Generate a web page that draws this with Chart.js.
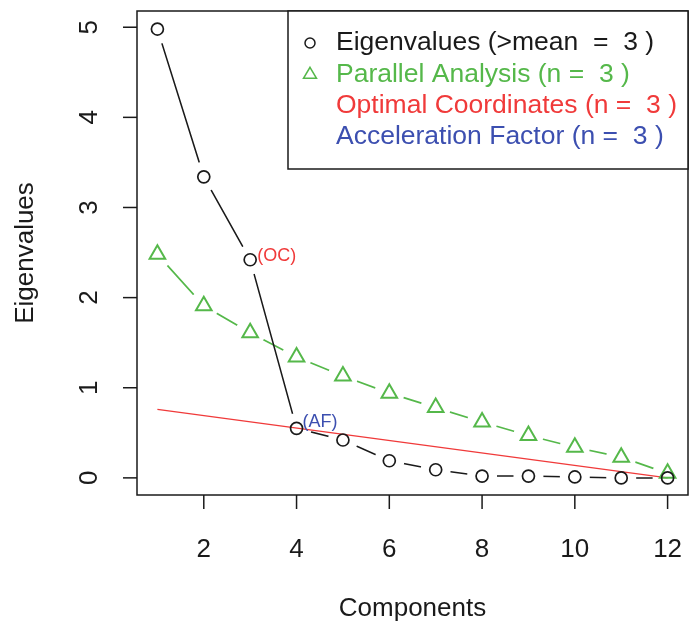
<!DOCTYPE html>
<html>
<head>
<meta charset="utf-8">
<script src="https://cdn.jsdelivr.net/npm/chart.js@4.4.0/dist/chart.umd.min.js"></script>
<style>
  html, body { margin: 0; padding: 0; background: #fff; }
</style>
</head>
<body>
<canvas id="screeChart" width="699" height="625"></canvas>
<script>
const ctx1 = document.getElementById("screeChart");

const components = [1, 2, 3, 4, 5, 6, 7, 8, 9, 10, 11, 12];
const eigenvalues = [4.98, 3.34, 2.42, 0.55, 0.42, 0.19, 0.09, 0.02, 0.02, 0.01, 0.0, 0.0];
const parallelAnalysis = [2.48, 1.91, 1.61, 1.34, 1.13, 0.94, 0.78, 0.62, 0.47, 0.34, 0.23, 0.05];
const ocComponents = [1, 12];
const ocValues = [0.76, 0.0];

const xTicks = [2, 4, 6, 8, 10, 12];
const yTicks = [0, 1, 2, 3, 4, 5];

const legendLabels = [
  "Eigenvalues (>mean  =  3 )",
  "Parallel Analysis (n =  3 )",
  "Optimal Coordinates (n =  3 )",
  "Acceleration Factor (n =  3 )",
];
const ocLabel = "(OC)";
const afLabel = "(AF)";
const ocIndex = 2;
const afIndex = 3;

const BLACK = "#1a1a1a";
const GREEN = "#55B84A";
const RED = "#F03A3A";
const BLUE = "#3C4FB0";
const FONT = "'Liberation Sans', Arial, sans-serif";

function toPoints(xs, ys) {
  return xs.map((x, i) => ({ x: x, y: ys[i] }));
}

// cut a hole round every point of a line, like R type = "b"
const gapPlugin = {
  id: "gaps",
  beforeDatasetDraw(chart, args) {
    const ds = chart.data.datasets[args.index];
    if (!ds.gap) return;
    const c = chart.ctx;
    const a = chart.chartArea;
    c.save();
    c.beginPath();
    c.rect(a.left - 20, a.top - 20, a.width + 40, a.height + 40);
    args.meta.data.forEach((el) => {
      c.moveTo(el.x + ds.gap, el.y);
      c.arc(el.x, el.y, ds.gap, 0, Math.PI * 2);
    });
    c.clip("evenodd");
  },
  afterDatasetDraw(chart, args) {
    const ds = chart.data.datasets[args.index];
    if (ds.gap) chart.ctx.restore();
  },
};

const furniturePlugin = {
  id: "furniture",
  afterDraw(chart) {
    const c = chart.ctx;
    const a = chart.chartArea;
    const xs = chart.scales.x;
    const ys = chart.scales.y;
    c.save();
    c.strokeStyle = BLACK;
    c.fillStyle = BLACK;
    c.lineWidth = 1.5;

    // box
    c.strokeRect(a.left, a.top, a.right - a.left, a.bottom - a.top);

    // x axis
    c.font = "26px " + FONT;
    c.textAlign = "center";
    c.textBaseline = "alphabetic";
    xTicks.forEach((v) => {
      const px = xs.getPixelForValue(v);
      c.beginPath();
      c.moveTo(px, a.bottom);
      c.lineTo(px, a.bottom + 14);
      c.stroke();
      c.fillText(String(v), px, a.bottom + 62);
    });

    // y axis, labels turned like R
    yTicks.forEach((v) => {
      const py = ys.getPixelForValue(v);
      c.beginPath();
      c.moveTo(a.left, py);
      c.lineTo(a.left - 14, py);
      c.stroke();
      c.save();
      c.translate(a.left - 40, py);
      c.rotate(-Math.PI / 2);
      c.fillText(String(v), 0, 0);
      c.restore();
    });

    // titles
    c.fillText("Components", (a.left + a.right) / 2, a.bottom + 121);
    c.save();
    c.translate(a.left - 104, (a.top + a.bottom) / 2);
    c.rotate(-Math.PI / 2);
    c.fillText("Eigenvalues", 0, 0);
    c.restore();

    // (OC) and (AF) notes
    const pts = chart.getDatasetMeta(1).data;
    c.font = "18px " + FONT;
    c.textAlign = "left";
    c.textBaseline = "middle";
    c.fillStyle = RED;
    c.fillText(ocLabel, pts[ocIndex].x + 7, pts[ocIndex].y - 4);
    c.fillStyle = BLUE;
    c.fillText(afLabel, pts[afIndex].x + 6, pts[afIndex].y - 6);

    // legend
    const lx = a.right - 400;
    const ly = a.top;
    c.fillStyle = "#fff";
    c.fillRect(lx, ly, a.right - lx, 158);
    c.strokeStyle = BLACK;
    c.strokeRect(lx, ly, a.right - lx, 158);
    const colors = [BLACK, GREEN, RED, BLUE];
    c.font = "26.5px " + FONT;
    legendLabels.forEach((label, i) => {
      const ry = ly + 32 + i * 31.3;
      if (i === 0) {
        c.strokeStyle = BLACK;
        c.beginPath();
        c.arc(lx + 22, ry, 5, 0, Math.PI * 2);
        c.stroke();
      } else if (i === 1) {
        c.strokeStyle = GREEN;
        c.beginPath();
        c.moveTo(lx + 22, ry - 7);
        c.lineTo(lx + 28.5, ry + 4);
        c.lineTo(lx + 15.5, ry + 4);
        c.closePath();
        c.stroke();
      }
      c.fillStyle = colors[i];
      c.fillText(label, lx + 48, ry);
    });
    c.restore();
  },
};

function makeScree() {
  new Chart(ctx1, {
    type: "scatter",
    data: {
      datasets: [
        {
          label: "eigen line",
          data: toPoints(components, eigenvalues),
          showLine: true,
          borderColor: BLACK,
          borderWidth: 1.5,
          pointRadius: 0,
          gap: 15,
        },
        {
          label: "Eigenvalues",
          data: toPoints(components, eigenvalues),
          showLine: false,
          pointStyle: "circle",
          pointRadius: 6,
          pointBorderWidth: 1.7,
          pointBorderColor: BLACK,
          pointBackgroundColor: "rgba(0,0,0,0)",
        },
        {
          label: "parallel line",
          data: toPoints(components, parallelAnalysis),
          showLine: true,
          borderColor: GREEN,
          borderWidth: 1.7,
          pointRadius: 0,
          gap: 15,
        },
        {
          label: "Parallel Analysis",
          data: toPoints(components, parallelAnalysis),
          showLine: false,
          pointStyle: "triangle",
          pointRadius: 9,
          pointBorderWidth: 2,
          pointBorderColor: GREEN,
          pointBackgroundColor: "rgba(0,0,0,0)",
        },
        {
          label: "Optimal Coordinates",
          data: toPoints(ocComponents, ocValues),
          showLine: true,
          borderColor: RED,
          borderWidth: 1.5,
          pointRadius: 0,
        },
      ],
    },
    options: {
      responsive: false,
      animation: false,
      layout: { padding: { left: 137, top: 7, right: 9, bottom: 130 } },
      plugins: {
        legend: { display: false },
        tooltip: { enabled: false },
      },
      scales: {
        x: { type: "linear", min: 0.56, max: 12.44, display: false },
        y: { type: "linear", min: -0.19, max: 5.18, display: false },
      },
    },
    plugins: [gapPlugin, furniturePlugin],
  });
}

makeScree();
</script>
</body>
</html>
